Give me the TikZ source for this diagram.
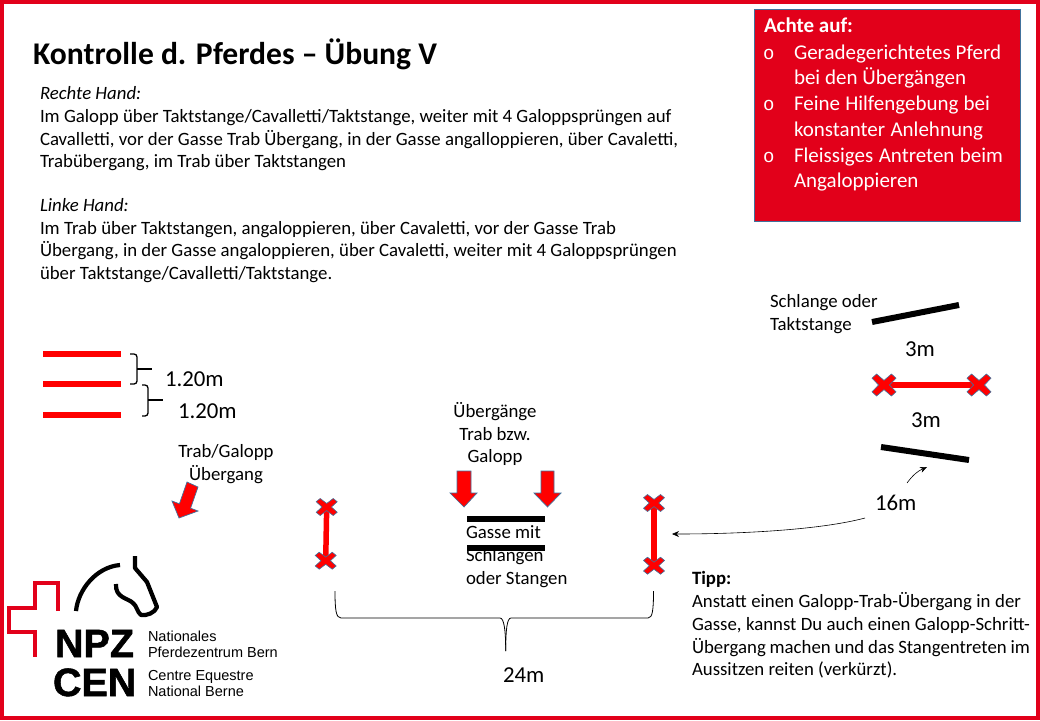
\documentclass[tikz,border=0pt]{standalone}
\usepackage{fontspec}
\setmainfont{Carlito}
\newfontfamily\logofont[BoldFeatures={FakeBold=1.3}]{Liberation Sans}
\newfontfamily\bulletfont{Liberation Mono}
\definecolor{npzred}{HTML}{E2001A}
\definecolor{polered}{HTML}{FF0000}
\definecolor{edgeblue}{HTML}{41719C}
\newcommand{\jl}[2]{\makebox[#1pt][s]{#2}}
\tikzset{
  x=1pt,y=-1pt,
  txt/.style={inner sep=0pt,outer sep=0pt,anchor=north west,align=left,font=\fontsize{18.8}{22.7}\selectfont},
  txtc/.style={txt,anchor=north,align=center},
  big/.style={inner sep=0pt,outer sep=0pt,anchor=base west,font=\fontsize{22.8}{25}\selectfont},
  redpole/.style={line width=6pt,draw=polered},
  blackpole/.style={line width=6pt,draw=black},
  redarrow/.style={fill=polered,draw=edgeblue,line width=0.7pt,line join=miter},
  xmark/.style={fill=polered,draw=edgeblue,line width=0.6pt},
  brace/.style={draw=black,line width=1.3pt},
  thinline/.style={draw=black,line width=0.6pt},
  tiplink/.style={thinline,-{Stealth[length=7pt,width=6pt]}},
  logotxt/.style={inner sep=0pt,outer sep=0pt,anchor=north west,align=left,font=\logofont\fontsize{14.5}{16.4}\selectfont},
  logobig/.style={inner sep=0pt,outer sep=0pt,anchor=base west,font=\logofont\bfseries\fontsize{39.5}{40}\selectfont},
  logoline/.style={line cap=butt,line join=miter}
}
\usetikzlibrary{arrows.meta}
% cross marker: centre x, centre y, half width, half height
\newcommand{\crossat}[4]{%
  \path[xmark,shift={(#1,#2)},x=#3pt,y=-#4pt]
    (-1,-.62)--(-.62,-1)--(0,-.42)--(.62,-1)--(1,-.62)--(.45,0)--(1,.62)--(.62,1)--(0,.42)--(-.62,1)--(-1,.62)--(-.45,0)--cycle;}
\begin{document}
\begin{tikzpicture}
\useasboundingbox (0,0) rectangle (1040,720);
\fill[white] (0,0) rectangle (1040,720);
\draw[npzred,line width=4pt] (2,2) rectangle (1038,718);

% title
\node[inner sep=0pt,anchor=base west,font=\bfseries\fontsize{31.6}{34}\selectfont] (title) at (33,64) {Kontrolle d. Pferdes – Übung V};

% red box
\node[draw=edgeblue,line width=0.8pt,fill=npzred,minimum width=266pt,minimum height=212pt,anchor=north west,inner sep=0pt] (box) at (754,9) {};
\node[txt,text=white,font=\fontsize{21}{25.6}\selectfont] (boxhead) at (764,15) {\strut\textbf{Achte auf:}};
\node[txt,text=white,font=\fontsize{21}{25.75}\selectfont] (boxbul) at (763,41) {\strut{\bulletfont\fontsize{19}{25.75}\selectfont o}\\[25.75pt]{\bulletfont\fontsize{19}{25.75}\selectfont o}\\[25.75pt]{\bulletfont\fontsize{19}{25.75}\selectfont o}};
\node[txt,text=white,font=\fontsize{21}{25.75}\selectfont] (boxtxt) at (794,41) {\strut\jl{207}{Geradegerichtetes Pferd}\\bei den Übergängen\\\jl{196}{Feine Hilfengebung bei}\\\jl{189}{konstanter Anlehnung}\\\jl{209}{Fleissiges Antreten beim}\\Angaloppieren};

% instructions
\node[txt] (rechts) at (40,84) {\strut\textit{Rechte Hand:}\\Im Galopp über Taktstange/Cavalletti/Taktstange, weiter mit 4 Galoppsprüngen auf\\Cavalletti, vor der Gasse Trab Übergang, in der Gasse angalloppieren, über Cavaletti,\\Trabübergang, im Trab über Taktstangen};
\node[txt] (links) at (40,195.5) {\strut\textit{Linke Hand:}\\Im Trab über Taktstangen, angaloppieren, über Cavaletti, vor der Gasse Trab\\Übergang, in der Gasse angaloppieren, über Cavaletti, weiter mit 4 Galoppsprüngen\\über Taktstange/Cavalletti/Taktstange.};

% three poles
\coordinate (p1a) at (43,353.5); \coordinate (p1b) at (121,353.5);
\coordinate (p2a) at (43,384); \coordinate (p2b) at (121,384);
\coordinate (p3a) at (43,415); \coordinate (p3b) at (121,415);
\draw[redpole] (p1a)--(p1b);
\draw[redpole] (p2a)--(p2b);
\draw[redpole] (p3a)--(p3b);
\draw[brace] (130,354) -- (134,354) to[out=0,in=90] (137,357) -- (137,381) to[out=-90,in=0] (134,384) -- (130,384);
\draw[brace] (137,369) -- (152,369);
\draw[brace] (142,385) -- (145,385) to[out=0,in=90] (148,388) -- (148,413) to[out=-90,in=0] (145,416) -- (142,416);
\draw[brace] (148,400) -- (163,400);
\node[big] (d1) at (165,386) {1.20m};
\node[big] (d2) at (178,418) {1.20m};

% Trab/Galopp
\node[txtc] (tg) at (226,442) {\strut Trab/Galopp\\Übergang};
\path[redarrow] (187,482)--(198,487)--(190.6,508.2)--(198,511)--(179,518)--(172,501)--(179.4,503.8)--cycle;

% left gate
\coordinate (lg1) at (326.7,507); \coordinate (lg2) at (325.7,560.7);
\draw[redpole,line width=5.5pt] (lg1)--(lg2);
\crossat{326.7}{507}{10.5}{8.5}
\crossat{325.7}{560.7}{10.5}{8.5}

% middle
\node[txtc] (ue) at (495,401.5) {\strut Übergänge\\Trab bzw.\\Galopp};
\path[redarrow] (457,471)--(471,471)--(471,493)--(477,493)--(464,507)--(450,493)--(457,493)--cycle;
\path[redarrow] (541,471)--(554,471)--(554,493)--(561,493)--(547.5,507)--(534,493)--(541,493)--cycle;
\node[txt] (gasse) at (466,523) {\strut Gasse mit\\Schlangen\\oder Stangen};
\coordinate (ga1) at (467,519); \coordinate (ga2) at (545,519);
\coordinate (gb1) at (467,548); \coordinate (gb2) at (545,548);
\draw[blackpole] (ga1)--(ga2);
\draw[blackpole] (gb1)--(gb2);

% right gate
\coordinate (rg1) at (654,503); \coordinate (rg2) at (654,565.7);
\draw[redpole] (rg1)--(rg2);
\crossat{654}{503}{10.5}{8.5}
\crossat{654}{565.7}{10.5}{8.5}

% top right
\node[txt] (schl) at (770,292) {\strut Schlange oder\\Taktstange};
\coordinate (s1a) at (872,322); \coordinate (s1b) at (959,305);
\draw[blackpole] (s1a)--(s1b);
\node[big] (m3a) at (905,356) {3m};
\coordinate (c1) at (884,385); \coordinate (c2) at (979,385);
\draw[redpole] (c1)--(c2);
\crossat{884}{385}{12}{11}
\crossat{979}{385}{12}{11}
\node[big] (m3b) at (911,427) {3m};
\coordinate (s2a) at (881,447); \coordinate (s2b) at (969,460);
\draw[blackpole] (s2a)--(s2b);
\node[big] (m16) at (875,510) {16m};
\coordinate (a1) at (907,483); \coordinate (a2) at (927,467);
\draw[tiplink] (a1) to[bend left=15] (a2);
\coordinate (b1) at (865,518); \coordinate (b2) at (672,534);
\draw[tiplink] (b1) .. controls (820,530) and (740,534) .. (b2);

% big brace
\draw[thinline,line width=0.8pt] (335,591) .. controls (335,610) and (336,618) .. (341,618) -- (500,618) .. controls (504,618) and (505.7,630) .. (505.7,651);
\draw[thinline,line width=0.8pt] (653.5,591) .. controls (653.5,610) and (652.5,618) .. (648,618) -- (511,618) .. controls (507,618) and (505.7,630) .. (505.7,651);
\node[big] (m24) at (503,682) {24m};

% tip
\node[txt] (tipp) at (692,569) {\strut\textbf{Tipp:}\\\jl{329}{Anstatt einen Galopp-Trab-Übergang in der}\\\jl{338}{Gasse, kannst Du auch einen Galopp-Schritt-}\\\jl{338}{Übergang machen und das Stangentreten im}\\Aussitzen reiten (verkürzt).};

% logo
\draw[npzred,line width=3.6pt,logoline] (58,611)--(58,583)--(35,583)--(35,608)--(9,608)--(9,632)--(35,632)--(35,657);
\draw[black,line width=4.2pt] (76,611) .. controls (78,590) and (96,567) .. (120,565);
\draw[black,line width=4.2pt,line join=round] (135,556)--(135,568)--(147,582)--(157,607) .. controls (155,613) and (146,616) .. (141,615) .. controls (137,612) and (137,606) .. (133,603) .. controls (128,598) and (115,598) .. (116,584);
\node[logobig] (npz) at (55,657) {NPZ};
\node[logobig] (cen) at (53,696) {CEN};
\node[logotxt] (l1) at (148,631) {Nationales\\Pferdezentrum Bern};
\node[logotxt] (l2) at (148,670) {Centre Equestre\\National Berne};
\end{tikzpicture}
\end{document}
